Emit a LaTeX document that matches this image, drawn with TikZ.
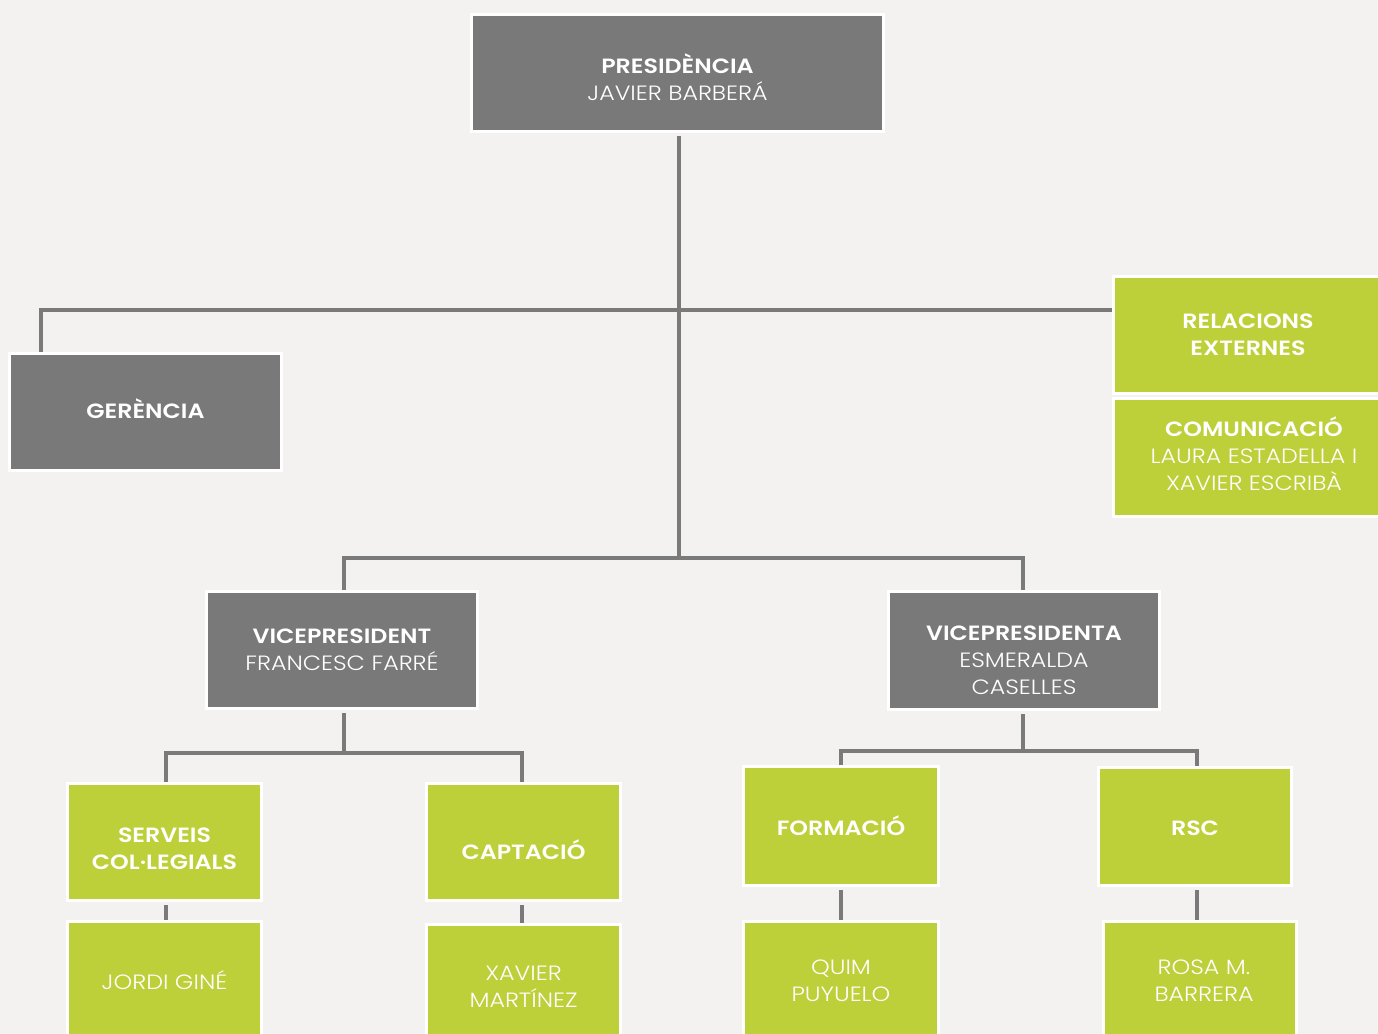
\documentclass[tikz,border=0pt]{standalone}
\usepackage{fontspec}
\setmainfont{Poppins}[UprightFont=* Light, BoldFont=* SemiBold, FakeStretch=1.15]
\definecolor{bg}{HTML}{F3F2F0}
\definecolor{boxgray}{HTML}{797979}
\definecolor{boxgreen}{HTML}{BDD03A}
\definecolor{linegray}{HTML}{7A7A7A}
\begin{document}
\begin{tikzpicture}[x=0.75pt,y=-0.75pt,
  base/.style={draw=white, line width=2.25pt, inner sep=0pt},
  gbox/.style={base, fill=boxgray},
  vbox/.style={base, fill=boxgreen},
  txt/.style={text=white, align=center, inner sep=0pt, font=\fontsize{15.5}{20.25}\selectfont},
  sz/.style n args={2}{minimum width={#1*0.75pt}, minimum height={#2*0.75pt}},
  conn/.style={draw=linegray, line width=3pt}]
\fill[bg] (0,0) rectangle (1378,1034);
\useasboundingbox (0,0) rectangle (1378,1034);
\begin{scope}
\clip (0,0) rectangle (1378,1034);
\coordinate (j1) at (679,310);
\coordinate (j2) at (679,558);
\coordinate (gtop) at (41,310);
\coordinate (b1) at (344,753);
\coordinate (b2) at (1023,751);

\node[gbox, sz={412}{117}] (pres) at (677.5,73) {};
\node[gbox, sz={272}{117}] (ger) at (145.5,412) {};
\node[vbox, sz={269}{117}] (rel) at (1248,335) {};
\node[vbox, sz={269}{118}] (com) at (1248,457.5) {};
\node[gbox, sz={271}{117}] (vp1) at (342,650) {};
\node[gbox, sz={271}{118}] (vp2) at (1024,650.5) {};
\node[vbox, sz={194}{117}] (serv) at (164.5,842) {};
\node[vbox, sz={194}{117}] (capt) at (523.5,842) {};
\node[vbox, sz={194}{119}] (jordi) at (164.5,980.5) {};
\node[vbox, sz={194}{119}] (xav) at (523.5,983.5) {};
\node[vbox, sz={195}{119}] (form) at (841,826) {};
\node[vbox, sz={193}{118}] (rsc) at (1195,826.5) {};
\node[vbox, sz={195}{119}] (quim) at (841,980.5) {};
\node[vbox, sz={193}{119}] (rosa) at (1200,980.5) {};

\node[txt, yshift=-3pt] (pres-t) at (pres) {\bfseries PRESIDÈNCIA\\JAVIER BARBERÁ};
\node[txt, yshift=2.25pt] (ger-t) at (ger) {\bfseries GERÈNCIA};
\node[txt] (rel-t) at (rel) {\bfseries RELACIONS\\\bfseries EXTERNES};
\node[txt, xshift=4.5pt, yshift=3pt] (com-t) at (com) {\bfseries COMUNICACIÓ\\LAURA ESTADELLA I\\XAVIER ESCRIBÀ};
\node[txt] (vp1-t) at (vp1) {\bfseries VICEPRESIDENT\\FRANCESC FARRÉ};
\node[txt, yshift=-7.5pt] (vp2-t) at (vp2) {\bfseries VICEPRESIDENTA\\ESMERALDA\\CASELLES};
\node[txt, yshift=-5.25pt] (serv-t) at (serv) {\bfseries SERVEIS\\\bfseries COL·LEGIALS};
\node[txt, yshift=-6pt] (capt-t) at (capt) {\bfseries CAPTACIÓ};
\node[txt] (jordi-t) at (jordi) {JORDI GINÉ};
\node[txt, yshift=-2.25pt] (xav-t) at (xav) {XAVIER\\MARTÍNEZ};
\node[txt] (form-t) at (form) {\bfseries FORMACIÓ};
\node[txt, yshift=-1.5pt] (rsc-t) at (rsc) {\bfseries RSC};
\node[txt] (quim-t) at (quim) {QUIM\\PUYUELO};
\node[txt, xshift=3pt] (rosa-t) at (rosa) {ROSA M.\\BARRERA};

\draw[conn] (j1 |- pres.south) ++(0,3) -- (j2);
\draw[conn] (ger.north -| gtop) -- (gtop) -- (rel.west |- gtop);
\draw[conn] (vp1.north -| b1) -- (b1 |- j2) -- (b2 |- j2) -- (vp2.north -| b2);
\draw[conn] (b1 |- vp1.south) ++(0,3) -- (b1);
\draw[conn] (serv.north -| 166,0) -- (166,753) -- (522,753) -- (capt.north -| 522,0);
\draw[conn] (b2 |- vp2.south) ++(0,3) -- (b2);
\draw[conn] (form.north) -- (form.north |- b2) -- (1197,751) -- (rsc.north -| 1197,0);
\draw[conn] (serv.south -| 166,0) ++(0,3) -- (jordi.north -| 166,0);
\draw[conn] (capt.south -| 522,0) ++(0,3) -- (xav.north -| 522,0);
\draw[conn] (form.south) ++(0,3) -- (quim.north -| form.south);
\draw[conn] (rsc.south -| 1197,0) ++(0,3) -- (rosa.north -| 1197,0);
\end{scope}
\end{tikzpicture}
\end{document}
